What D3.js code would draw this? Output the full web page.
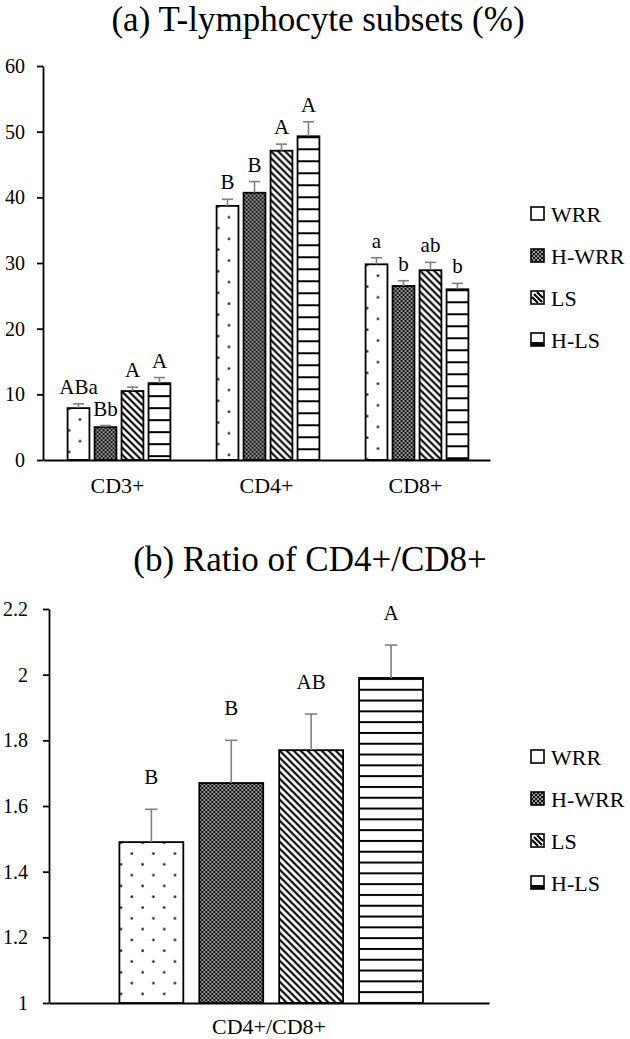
<!DOCTYPE html>
<html><head><meta charset="utf-8">
<script src="https://cdn.jsdelivr.net/npm/d3@7"></script>
<style>
body{margin:0;background:#fff}
svg{display:block}
svg text{font-family:"Liberation Serif","Times New Roman",serif !important;fill:#000}
</style>
</head><body>
<svg id="c" width="630" height="1039" font-family="Liberation Serif, Times New Roman, serif"></svg>
<script>
// ---------- data ----------
const series = ["WRR", "H-WRR", "LS", "H-LS"];

const categoriesA = ["CD3+", "CD4+", "CD8+"];
const wrrA  = [7.9, 38.7, 29.8];
const hwrrA = [5.0, 40.7, 26.5];
const lsA   = [10.5, 47.1, 28.9];
const hlsA  = [11.7, 49.3, 26.0];
const wrrErrA  = [0.65, 1.0, 1.0];
const hwrrErrA = [0.25, 1.7, 0.8];
const lsErrA   = [0.6, 1.0, 1.2];
const hlsErrA  = [0.85, 2.2, 0.9];
const wrrLabA  = ["ABa", "B", "a"];
const hwrrLabA = ["Bb", "B", "b"];
const lsLabA   = ["A", "A", "ab"];
const hlsLabA  = ["A", "A", "b"];
const ticksA = [0, 10, 20, 30, 40, 50, 60];
const titleA = "(a) T-lymphocyte subsets (%)";

const categoriesB = ["CD4+/CD8+"];
const wrrB  = [1.49];
const hwrrB = [1.67];
const lsB   = [1.77];
const hlsB  = [1.99];
const wrrErrB  = [0.10];
const hwrrErrB = [0.13];
const lsErrB   = [0.11];
const hlsErrB  = [0.10];
const wrrLabB  = ["B"];
const hwrrLabB = ["B"];
const lsLabB   = ["AB"];
const hlsLabB  = ["A"];
const ticksB = [1, 1.2, 1.4, 1.6, 1.8, 2, 2.2];
const titleB = "(b) Ratio of CD4+/CD8+";

// ---------- drawing ----------
const FONT = '"Liberation Serif", "Times New Roman", serif';
const svg = d3.select("#c");
const defs = svg.append("defs");
const patternKinds = ["dots", "checker", "diag", "horiz"];
let pid = 0;

function makePattern(kind, px, py, hPeriod) {
  const id = "p" + (pid++);
  const p = defs.append("pattern").attr("id", id).attr("patternUnits", "userSpaceOnUse");
  if (kind === "dots") {
    p.attr("x", px).attr("y", py - 1).attr("width", 21.6).attr("height", 21.6);
    p.append("rect").attr("width", 21.6).attr("height", 21.6).attr("fill", "#fff");
    p.append("rect").attr("x", 0.5).attr("y", 0.5).attr("width", 2.2).attr("height", 2.2).attr("fill", "#000");
    p.append("rect").attr("x", 11.3).attr("y", 11.3).attr("width", 2.2).attr("height", 2.2).attr("fill", "#000");
  } else if (kind === "checker") {
    p.attr("x", px).attr("y", py).attr("width", 4).attr("height", 4);
    p.append("rect").attr("width", 4).attr("height", 4).attr("fill", "#111");
    p.append("rect").attr("x", 0.3).attr("y", 0.3).attr("width", 1.5).attr("height", 1.5).attr("fill", "#fff");
    p.append("rect").attr("x", 2.3).attr("y", 2.3).attr("width", 1.5).attr("height", 1.5).attr("fill", "#fff");
  } else if (kind === "diag") {
    p.attr("x", px).attr("y", py).attr("width", 7).attr("height", 7);
    p.append("rect").attr("width", 7).attr("height", 7).attr("fill", "#fff");
    p.append("path").attr("d", "M0,0L7,7M-1,6L1,8M6,-1L8,1").attr("stroke", "#000").attr("stroke-width", 2.1);
  } else {
    p.attr("x", px).attr("y", py).attr("width", 10).attr("height", hPeriod);
    p.append("rect").attr("width", 10).attr("height", hPeriod).attr("fill", "#fff");
    p.append("rect").attr("y", 0).attr("width", 10).attr("height", 2).attr("fill", "#000");
  }
  return "url(#" + id + ")";
}

function drawChart(o) {
  const g = svg.append("g");
  const x0 = d3.scaleBand().domain(o.categories).range([o.left, o.right]);
  const bw = x0.bandwidth();
  const x1 = d3.scaleBand().domain(series).range([bw * o.g0, bw * o.g1]).paddingInner(o.pad);
  const y = d3.scaleLinear().domain(o.domain).range([o.bottom, o.top]);

  // title
  g.append("text").attr("x", o.titleX).attr("y", o.titleY).attr("text-anchor", "middle")
    .style("font-family", FONT).style("font-size", "35px").text(o.title);

  const data = [];
  o.categories.forEach((c, ci) => series.forEach((s, si) => data.push({
    c, s, si, v: o.values[si][ci], e: o.errors[si][ci], l: o.letters[si][ci]
  })));

  const bars = g.append("g");
  data.forEach(d => {
    const bx = x0(d.c) + x1(d.s);
    const by = y(d.v);
    const fill = makePattern(patternKinds[d.si], bx, by, o.hPeriod);
    bars.append("rect").attr("x", bx).attr("y", by).attr("width", x1.bandwidth())
      .attr("height", y(o.domain[0]) - by).attr("fill", fill)
      .attr("stroke", "#000").attr("stroke-width", 1.8);
    const cx = bx + x1.bandwidth() / 2;
    const et = y(d.v + d.e);
    bars.append("line").attr("x1", cx).attr("x2", cx).attr("y1", by).attr("y2", et)
      .attr("stroke", "#808080").attr("stroke-width", 1.6);
    bars.append("line").attr("x1", cx - o.cap / 2).attr("x2", cx + o.cap / 2).attr("y1", et).attr("y2", et)
      .attr("stroke", "#808080").attr("stroke-width", 1.6);
    bars.append("text").attr("x", cx).attr("y", et - o.labOff).attr("text-anchor", "middle")
      .style("font-family", FONT).style("font-size", "21px").text(d.l);
  });

  // y axis
  const ya = g.append("g").attr("transform", `translate(${o.left},0)`)
    .call(d3.axisLeft(y).tickValues(o.ticks).tickSize(6).tickSizeOuter(0)
      .tickPadding(o.tickPad).tickFormat(d3.format("~g")));
  ya.attr("font-family", null);
  ya.selectAll("text").style("font-family", FONT).style("font-size", "20px").attr("fill", "#000");
  ya.selectAll("path,line").attr("stroke", "#000").attr("stroke-width", 1.8);

  // x axis
  const xa = g.append("g").attr("transform", `translate(0,${o.bottom})`)
    .call(d3.axisBottom(x0).tickSize(0).tickSizeOuter(0).tickPadding(o.catPad));
  xa.attr("font-family", null);
  xa.selectAll("text").style("font-family", FONT).style("font-size", "22px").attr("fill", "#000");
  xa.selectAll("path").attr("stroke", "#000").attr("stroke-width", 1.8);

  // legend
  const lg = g.append("g");
  series.forEach((s, i) => {
    const cy = o.legendY + i * 42;
    const sx = 531, sz = 13, sy = cy - 7;
    if (i === 0) {
      lg.append("rect").attr("x", sx).attr("y", sy).attr("width", sz).attr("height", sz)
        .attr("fill", "#fff").attr("stroke", "#000").attr("stroke-width", 1.6);
    } else if (i === 1) {
      lg.append("rect").attr("x", sx).attr("y", sy).attr("width", sz).attr("height", sz)
        .attr("fill", makePattern("checker", sx, sy)).attr("stroke", "#000").attr("stroke-width", 1.6);
    } else if (i === 2) {
      lg.append("rect").attr("x", sx).attr("y", sy).attr("width", sz).attr("height", sz)
        .attr("fill", "#fff").attr("stroke", "#000").attr("stroke-width", 1.6);
      lg.append("path").attr("d", `M${sx + 3},${sy + 3}L${sx + sz - 2},${sy + sz - 2}M${sx + 1},${sy + 6}L${sx + sz - 6},${sy + sz - 1}M${sx + 6},${sy + 1}L${sx + sz - 1},${sy + sz - 6}`)
        .attr("stroke", "#000").attr("stroke-width", 2.2);
    } else {
      lg.append("rect").attr("x", sx).attr("y", sy).attr("width", sz).attr("height", sz)
        .attr("fill", "#fff").attr("stroke", "#000").attr("stroke-width", 1.6);
      lg.append("rect").attr("x", sx).attr("y", sy + sz - 4).attr("width", sz).attr("height", 4).attr("fill", "#000");
    }
    lg.append("text").attr("x", 551).attr("y", cy + 7.5)
      .style("font-family", FONT).style("font-size", "22px").text(s);
  });
}

drawChart({
  title: titleA, titleX: 318, titleY: 31,
  categories: categoriesA,
  values: [wrrA, hwrrA, lsA, hlsA],
  errors: [wrrErrA, hwrrErrA, lsErrA, hlsErrA],
  letters: [wrrLabA, hwrrLabA, lsLabA, hlsLabA],
  domain: [0, 60], ticks: ticksA,
  left: 43, right: 490, top: 66, bottom: 460,
  g0: 0.165, g1: 0.855, pad: 0.19,
  cap: 11, labOff: 10, tickPad: 12, catPad: 17.5,
  hPeriod: 12, legendY: 214
});

drawChart({
  title: titleB, titleX: 310, titleY: 571,
  categories: categoriesB,
  values: [wrrB, hwrrB, lsB, hlsB],
  errors: [wrrErrB, hwrrErrB, lsErrB, hlsErrB],
  letters: [wrrLabB, hwrrLabB, lsLabB, hlsLabB],
  domain: [1, 2.2], ticks: ticksB,
  left: 49, right: 489, top: 609, bottom: 1003,
  g0: 0.16, g1: 0.85, pad: 0.2,
  cap: 12.5, labOff: 25, tickPad: 15, catPad: 15.5,
  hPeriod: 10.8, legendY: 757
});
</script>
</body></html>
